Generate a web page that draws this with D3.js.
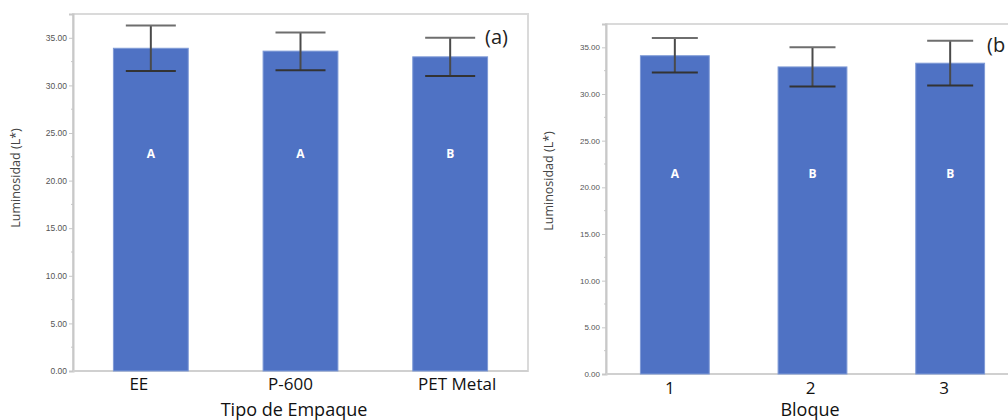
<!DOCTYPE html>
<html>
<head>
<meta charset="utf-8">
<script src="https://cdn.jsdelivr.net/npm/d3@7"></script>
<style>
  body { margin: 0; background: #fff; }
  svg { display: block; }
</style>
</head>
<body>
<svg id="chart" width="1008" height="420"></svg>
<script>
// data ------------------------------------------------------------
var yTicks = [0, 5, 10, 15, 20, 25, 30, 35];

var empaqueCats = ["EE", "P-600", "PET Metal"];
var empaqueMeans = [33.9, 33.6, 33.0];
var empaqueLow = [31.5, 31.6, 31.0];
var empaqueHigh = [36.3, 35.55, 35.0];
var empaqueLetters = ["A", "A", "B"];

var bloqueCats = ["1", "2", "3"];
var bloqueMeans = [34.1, 32.9, 33.3];
var bloqueLow = [32.3, 30.8, 30.9];
var bloqueHigh = [36.0, 35.0, 35.7];
var bloqueLetters = ["A", "B", "B"];

var svg = d3.select("#chart");
var barColor = "#4f72c4";

var drawPanel = function(p) {
  var x = d3.scaleBand().domain(p.cats).range([p.left, p.right])
    .paddingInner(0.5).paddingOuter(p.outer);
  var y = d3.scaleLinear().domain([0, 37.5]).range([p.bottom, p.top]);
  var g = svg.append("g");

  // plot frame
  g.append("rect")
    .attr("x", p.left).attr("y", p.top)
    .attr("width", p.right - p.left).attr("height", p.bottom - p.top)
    .attr("fill", "none").attr("stroke", "#dadada").attr("stroke-width", 2);

  // minor ticks
  g.selectAll("line.minor")
    .data(d3.range(2.5, 37.5, 5))
    .enter().append("line")
      .attr("x1", p.left - 2).attr("x2", p.left)
      .attr("y1", function(d) { return y(d); })
      .attr("y2", function(d) { return y(d); })
      .attr("stroke", "#c8c8c8");

  // y axis
  var yAxis = g.append("g")
    .attr("transform", "translate(" + p.left + ",0)")
    .call(d3.axisLeft(y).tickValues(yTicks).tickSize(4).tickPadding(2)
      .tickFormat(d3.format(".2f")));
  yAxis.select(".domain").attr("stroke", "#c8c8c8").attr("stroke-width", 2);
  yAxis.selectAll(".tick line").attr("stroke", "#c8c8c8");
  yAxis.selectAll(".tick text")
    .attr("fill", "#555").attr("font-size", p.tickSize)
    .attr("font-family", "'Liberation Sans Narrow', 'Liberation Sans', sans-serif");

  // bottom axis line
  g.append("line")
    .attr("x1", p.left).attr("x2", p.right)
    .attr("y1", p.bottom).attr("y2", p.bottom)
    .attr("stroke", "#d0d0d0").attr("stroke-width", 2);

  // bars
  g.selectAll("rect.bar")
    .data(p.means)
    .enter().append("rect")
      .attr("x", function(d, i) { return x(p.cats[i]); })
      .attr("y", function(d) { return y(d); })
      .attr("width", x.bandwidth())
      .attr("height", function(d) { return y(0) - y(d); })
      .attr("fill", barColor)
      .attr("stroke", "#7f9ad6").attr("stroke-width", 1);

  // error bars
  var cx = function(i) { return x(p.cats[i]) + x.bandwidth() / 2; };
  var err = g.selectAll("g.err")
    .data(p.cats)
    .enter().append("g")
      .attr("stroke", "#4a4a4a").attr("stroke-width", 2);
  err.append("line")
    .attr("x1", function(d, i) { return cx(i); })
    .attr("x2", function(d, i) { return cx(i); })
    .attr("y1", function(d, i) { return y(p.high[i]); })
    .attr("y2", function(d, i) { return y(p.low[i]); });
  err.append("line")
    .attr("x1", function(d, i) { return cx(i) - p.cap; })
    .attr("x2", function(d, i) { return cx(i) + p.cap; })
    .attr("y1", function(d, i) { return y(p.high[i]); })
    .attr("y2", function(d, i) { return y(p.high[i]); })
    .attr("stroke", "#6e6e6e");
  err.append("line")
    .attr("x1", function(d, i) { return cx(i) - p.cap; })
    .attr("x2", function(d, i) { return cx(i) + p.cap; })
    .attr("y1", function(d, i) { return y(p.low[i]); })
    .attr("y2", function(d, i) { return y(p.low[i]); })
    .attr("stroke", "#333");

  // letters inside the bars
  g.selectAll("text.letter")
    .data(p.letters)
    .enter().append("text")
      .attr("x", function(d, i) { return cx(i); })
      .attr("y", y(p.letterAt))
      .attr("dy", "0.35em")
      .attr("text-anchor", "middle")
      .attr("fill", "#fff").attr("font-weight", "bold")
      .attr("font-size", 12).attr("font-family", "'Open Sans', sans-serif")
      .text(function(d) { return d; });

  // category labels
  g.selectAll("text.cat")
    .data(p.cats)
    .enter().append("text")
      .attr("x", function(d, i) { return cx(i) + p.catShift[i]; })
      .attr("y", p.catY)
      .attr("text-anchor", "middle")
      .attr("fill", "#111").attr("font-size", 17)
      .attr("font-family", "'Open Sans', sans-serif")
      .text(function(d) { return d; });

  // axis titles
  g.append("text")
    .attr("x", p.titleX).attr("y", 416)
    .attr("text-anchor", "middle")
    .attr("fill", "#111").attr("font-size", 18)
    .attr("font-family", "'Open Sans', sans-serif")
    .text(p.title);

  g.append("text")
    .attr("transform", "translate(" + p.ylabX + "," + p.ylabY + ") rotate(-90)")
    .attr("text-anchor", "middle")
    .attr("fill", "#444").attr("font-size", 12.5)
    .attr("font-family", "'Open Sans', sans-serif")
    .text("Luminosidad (L*)");

  // panel tag
  g.append("text")
    .attr("x", p.tagX).attr("y", p.tagY)
    .attr("fill", "#222").attr("font-size", 20)
    .attr("font-family", "'Open Sans', sans-serif")
    .text(p.tag);
};

drawPanel({
  cats: empaqueCats, means: empaqueMeans, low: empaqueLow, high: empaqueHigh,
  letters: empaqueLetters, letterAt: 22.8,
  left: 73, right: 528, top: 14, bottom: 371, outer: 0.27, cap: 25,
  tickSize: 8.5, catY: 390, catShift: [-12, -10, 7],
  title: "Tipo de Empaque", titleX: 294, ylabX: 20, ylabY: 178,
  tag: "(a)", tagX: 485, tagY: 44
});

drawPanel({
  cats: bloqueCats, means: bloqueMeans, low: bloqueLow, high: bloqueHigh,
  letters: bloqueLetters, letterAt: 21.5,
  left: 606, right: 1019, top: 24, bottom: 374, outer: 0.25, cap: 23,
  tickSize: 8, catY: 394, catShift: [-5, -2, -6],
  title: "Bloque", titleX: 810, ylabX: 553, ylabY: 181,
  tag: "(b", tagX: 987, tagY: 52
});
</script>
</body>
</html>
